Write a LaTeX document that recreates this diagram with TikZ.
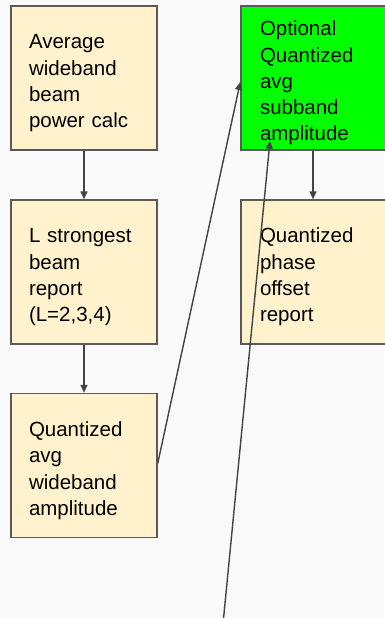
\documentclass[tikz,border=0pt]{standalone}
\usepackage{fontspec}
\setmainfont{Liberation Sans}
\usepackage{xcolor}
\usepackage{tikz}
\usetikzlibrary{arrows.meta}
\definecolor{lysgul}{HTML}{FFF2CC}
\definecolor{kant}{HTML}{595959}
\definecolor{strek}{HTML}{434343}
\definecolor{bakgrunn}{HTML}{F9F9F9}
\tikzstyle{boks} = [rectangle, minimum height=144pt, minimum width=144pt, draw=kant, line width=1.4pt, fill=lysgul, text width=110pt, inner xsep=18pt, align=left, font=\fontsize{20.5}{26.3}\selectfont, execute at begin node={\rule{0pt}{25pt}}]
\tikzstyle{pil} = [line width=1.4pt, draw=strek, -{Triangle[length=8pt,width=7pt]}]

\begin{document}
\begin{tikzpicture}[x=1pt, y=-1pt]
				\fill[bakgrunn] (0,0) rectangle (384,618);
				\useasboundingbox (0,0) rectangle (384,618);
				
				\node (effekt) [boks] at (84,78) {Average\\wideband\\beam\\power calc};
				\node (sterkest) [boks] at (84,272) {L strongest\\beam\\report\\(L=2,3,4)};
				\node (wideamp) [boks] at (84,465.5) {Quantized\\avg\\wideband\\amplitude};
				
				\node (subamp) [boks, fill=green, minimum width=148pt] at (315,78) {Optional\\Quantized\\avg\\subband\\amplitude};
				\node (fase) [boks, minimum width=148pt] at (315,272) {Quantized\\phase\\offset\\report};
				
				\coordinate (utenfor) at (223,624);
				
				\draw [pil] (effekt) -- (sterkest);
				\draw [pil] (sterkest) -- (wideamp);
				\draw [pil] ([xshift=-2pt]subamp.south) -- ([xshift=-2pt]fase.north);
				\draw [pil] ([yshift=2pt]wideamp.east) -- ([yshift=-4pt]subamp.west);
				\draw [pil] (utenfor) -- ([xshift=-45pt, yshift=10pt]subamp.south);
				
\end{tikzpicture}
\end{document}
